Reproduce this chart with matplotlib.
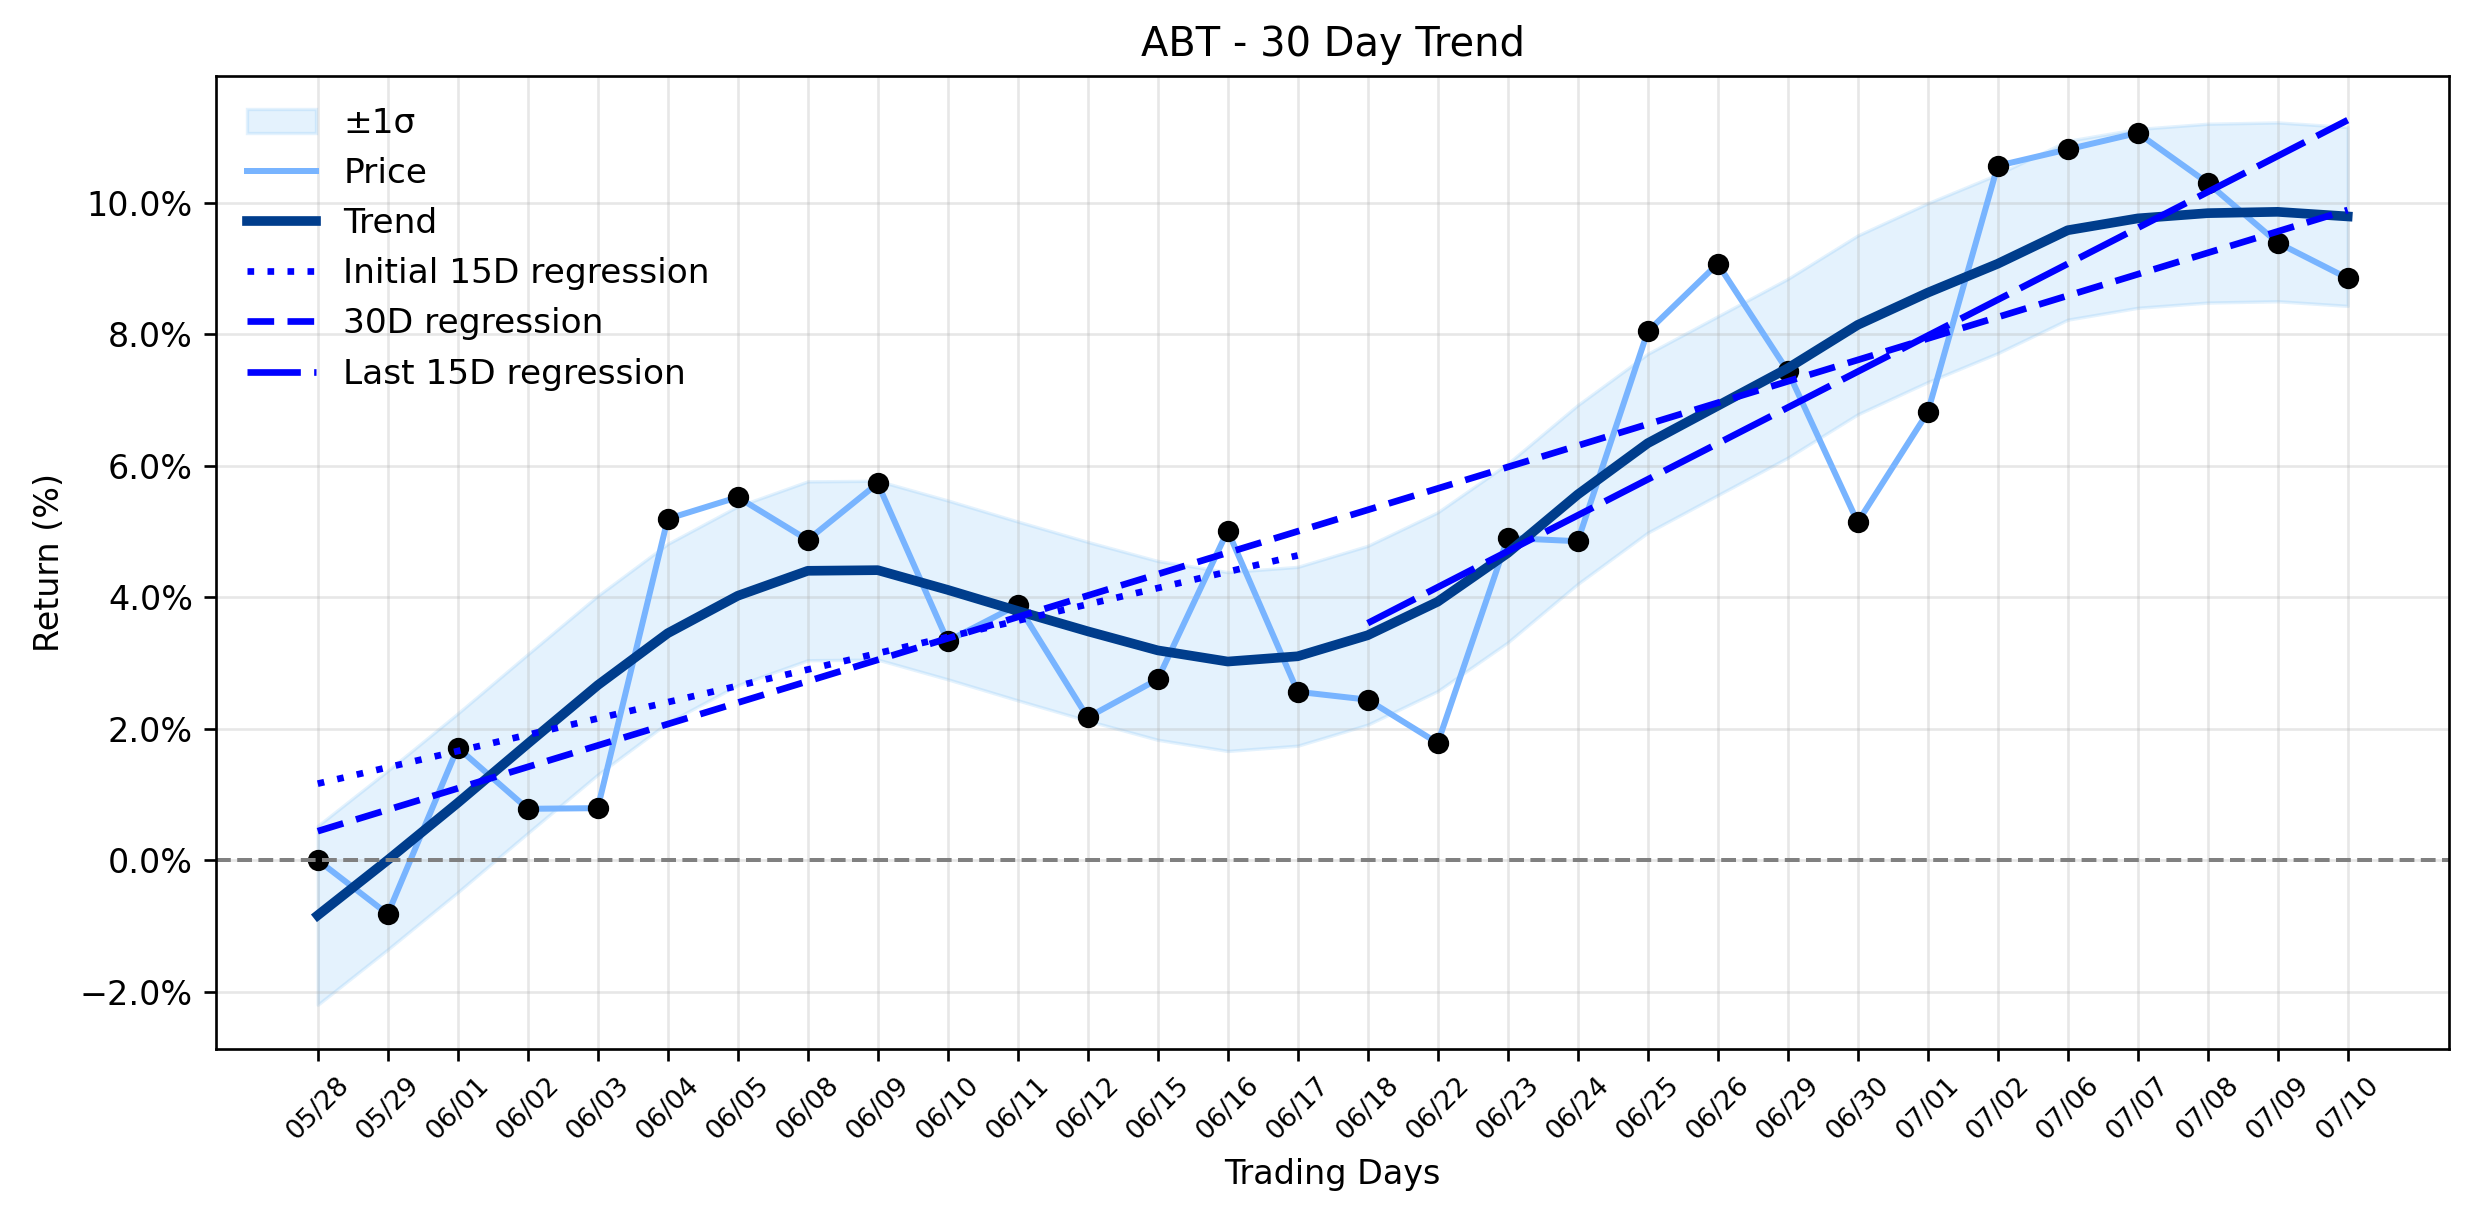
import numpy as np
import matplotlib
matplotlib.use("Agg")
import matplotlib.pyplot as plt
from matplotlib.ticker import PercentFormatter

ticker = "ABT"
dates = ['05/28', '05/29', '06/01', '06/02', '06/03', '06/04', '06/05', '06/08', '06/09', '06/10',
         '06/11', '06/12', '06/15', '06/16', '06/17', '06/18', '06/22', '06/23', '06/24', '06/25',
         '06/26', '06/29', '06/30', '07/01', '07/02', '07/06', '07/07', '07/08', '07/09', '07/10']

# cumulative return (%)
price = [0.00, -0.82, 1.71, 0.78, 0.79, 5.19, 5.52, 4.87, 5.73, 3.33,
         3.88, 2.17, 2.75, 5.01, 2.56, 2.44, 1.78, 4.90, 4.85, 8.04,
         9.07, 7.44, 5.14, 6.81, 10.56, 10.81, 11.06, 10.30, 9.39, 8.85]

trend = [-0.84, 0.00, 0.87, 1.77, 2.66, 3.45, 4.02, 4.40, 4.41, 4.11,
         3.79, 3.48, 3.19, 3.02, 3.10, 3.42, 3.93, 4.67, 5.56, 6.34,
         6.91, 7.48, 8.14, 8.63, 9.07, 9.58, 9.76, 9.84, 9.86, 9.79]

sigma = 1.36  # width of the shaded band

x = np.arange(len(dates))
price = np.array(price)
trend = np.array(trend)

fig, ax = plt.subplots(figsize=(10.308, 5.1), dpi=240)
fig.subplots_adjust(left=0.0874, right=0.990, top=0.938, bottom=0.143)

ax.fill_between(x, trend - sigma, trend + sigma, color='#2196f3', alpha=0.12, label='±1σ')
ax.plot(x, price, color='#78b4ff', linewidth=1.8, label='Price')
ax.plot(x, price, 'o', color='black', markersize=5.4)
ax.plot(x, trend, color='#003d8c', linewidth=2.9, label='Trend')

# regressions
p1 = np.polyfit(x[:15], price[:15], 1)
ax.plot(x[:15], np.polyval(p1, x[:15]), color='blue', linewidth=2,
        dashes=(1, 2), label='Initial 15D regression')
p2 = np.polyfit(x, price, 1)
ax.plot(x, np.polyval(p2, x), color='blue', linewidth=2,
        dashes=(4, 2), label='30D regression')
p3 = np.polyfit(x[15:], price[15:], 1)
ax.plot(x[15:], np.polyval(p3, x[15:]), color='blue', linewidth=2,
        dashes=(8, 2), label='Last 15D regression')

ax.axhline(0, color='gray', linestyle='--', linewidth=1.2)

ax.set_xticks(x)
ax.set_xticklabels(dates, rotation=45, fontsize=8)
ax.yaxis.set_major_formatter(PercentFormatter(decimals=1))
ax.set_xlabel('Trading Days')
ax.set_ylabel('Return (%)')
ax.set_title(f'{ticker} - 30 Day Trend')
ax.grid(True, alpha=0.3)
ax.legend(loc='upper left', frameon=False, fontsize=10.3)

fig.savefig('out.png', dpi=240)
